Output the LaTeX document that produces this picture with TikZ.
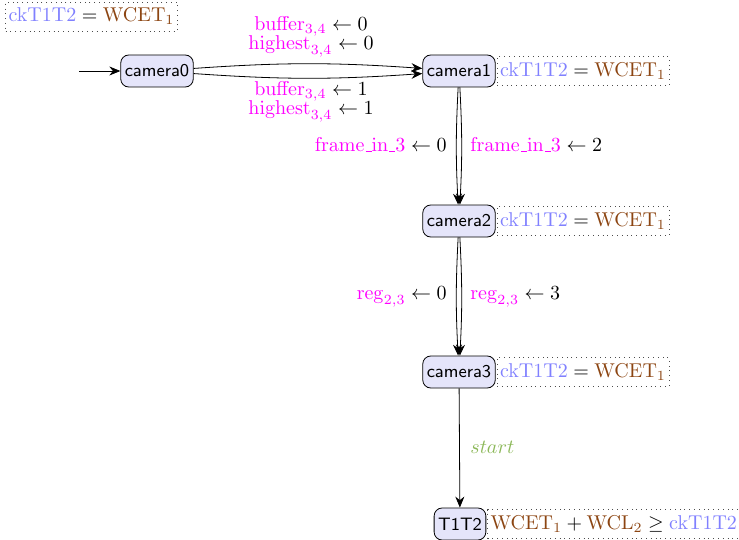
\documentclass[tikz,border=0pt]{standalone}
\usetikzlibrary{arrows.meta}
\definecolor{clockc}{rgb}{0.5,0.5,1}
\definecolor{paramc}{rgb}{0.55,0.27,0.07}
\definecolor{varc}{rgb}{1,0,1}
\definecolor{actc}{rgb}{0.55,0.72,0.35}
\definecolor{locfill}{rgb}{0.9,0.9,0.98}
\tikzset{
  loc/.style={draw, rounded corners=4pt, fill=locfill, font=\sffamily\small, minimum height=16pt, inner xsep=2pt},
  inv/.style={draw=black!70, dotted, inner xsep=1.5pt, inner ysep=3pt},
  trans/.style={-{Stealth[length=5.5pt,width=4.5pt]}},
  lbl/.style={inner sep=0pt}
}
\newcommand{\invtext}{$\textcolor{clockc}{\mathrm{ckT1T2}} = \textcolor{paramc}{\mathrm{WCET}_1}$}
\newcommand{\myus}{\mbox{\kern.06em\vbox{\hrule width.3em}}}
\newcommand{\frin}{\mathrm{frame}\myus\mathrm{in}\myus 3}
\begin{document}
\begin{tikzpicture}[x=0.5pt,y=-0.5pt]
\useasboundingbox (0,0) rectangle (739,540);
\node[loc] (c0) at (157,71) {camera0};
\node[loc] (c1) at (459,71) {camera1};
\node[loc] (c2) at (459,221) {camera2};
\node[loc] (c3) at (459,372) {camera3};
\node[loc] (t) at (460,524) {T1T2};
\node[inv] (i0) at (91.5,16.5) {\invtext};
\node[inv, anchor=west, xshift=0.5pt] (i1) at (c1.east) {\invtext};
\node[inv, anchor=west, xshift=0.5pt] (i2) at (c2.east) {\invtext};
\node[inv, anchor=west, xshift=0.5pt] (i3) at (c3.east) {\invtext};
\node[inv, anchor=west, xshift=0.5pt] (it) at (t.east) {$\textcolor{paramc}{\mathrm{WCET}_1} + \textcolor{paramc}{\mathrm{WCL}_2} \geq \textcolor{clockc}{\mathrm{ckT1T2}}$};
\coordinate (init) at (79,71);
\draw[trans] (init) -- (c0);
\draw[trans] (c0) to[bend left=4] (c1);
\draw[trans] (c0) to[bend right=4] (c1);
\draw[trans] (c1) to[bend right=3] (c2);
\draw[trans] (c1) to[bend left=3] (c2);
\draw[trans] (c2) to[bend right=3] (c3);
\draw[trans] (c2) to[bend left=3] (c3);
\draw[trans] (c3) -- (t);
\node[lbl, align=center] (a) at (311,36.5) {$\textcolor{varc}{\mathrm{buffer}_{3,4}} \leftarrow 0$\\[-2.5pt]$\textcolor{varc}{\mathrm{highest}_{3,4}} \leftarrow 0$};
\node[lbl, align=center] (b) at (311,101.5) {$\textcolor{varc}{\mathrm{buffer}_{3,4}} \leftarrow 1$\\[-2.5pt]$\textcolor{varc}{\mathrm{highest}_{3,4}} \leftarrow 1$};
\node[lbl, anchor=east] (f0) at (447,145) {$\textcolor{varc}{\frin} \leftarrow 0$};
\node[lbl, anchor=west] (f2) at (470,145) {$\textcolor{varc}{\frin} \leftarrow 2$};
\node[lbl, anchor=east] (r0) at (447,297) {$\textcolor{varc}{\mathrm{reg}_{2,3}} \leftarrow 0$};
\node[lbl, anchor=west] (r3) at (470,297) {$\textcolor{varc}{\mathrm{reg}_{2,3}} \leftarrow 3$};
\node[lbl, anchor=west] (s) at (470,447) {$\textcolor{actc}{start}$};
\end{tikzpicture}
\end{document}
